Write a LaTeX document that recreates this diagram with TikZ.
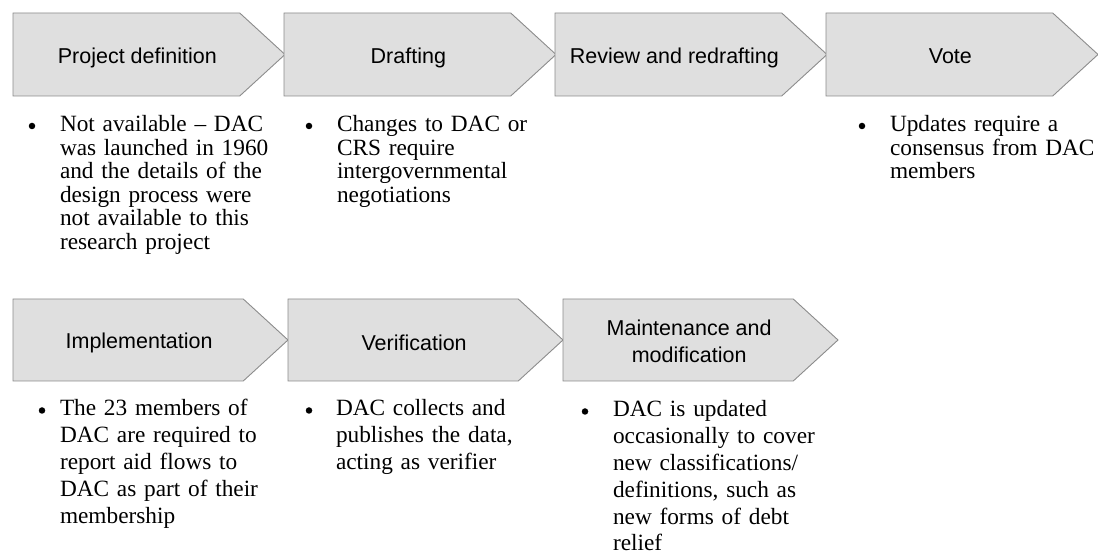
\documentclass[tikz,border=0pt]{standalone}
\usepackage{fontspec}
\setmainfont{Liberation Serif}
\setsansfont{Liberation Sans}
\usetikzlibrary{positioning, shapes.symbols}

\begin{document}
\begin{tikzpicture}[x=1pt,y=1pt,node distance=-1pt,
    every node/.style={outer sep=0pt}]
  \tikzstyle{stage}=[signal, signal to=east, signal from=nowhere, signal pointer angle=85,
    draw=gray!90, line width=0.9pt, fill=gray!25, minimum width=272pt, minimum height=83pt, inner sep=0pt]
  \tikzstyle{stagetext}=[font=\sffamily\fontsize{21.5}{27}\selectfont, align=center, inner sep=0pt]
  \tikzstyle{note}=[anchor=base west, inner sep=0pt, align=left, text width=240pt,
    font=\fontsize{23.3}{23.5}\selectfont]
  \tikzstyle{dot}=[circle, fill=black, minimum size=6.5pt, inner sep=0pt]

  \useasboundingbox (0,0) rectangle (1098,554);

  % Top row of stages
  \node[stage, anchor=west] (c1) at (13,499.5) {};
  \node[stage] (c2) [right=of c1] {};
  \node[stage] (c3) [right=of c2] {};
  \node[stage] (c4) [right=of c3] {};

  \node[stagetext] (l1) at ([xshift=11pt,yshift=-3pt]c1.center) {Project definition};
  \node[stagetext] (l2) at ([xshift=11pt,yshift=-3pt]c2.center) {Drafting};
  \node[stagetext] (l3) at ([xshift=6pt,yshift=-3pt]c3.center) {Review and redrafting};
  \node[stagetext] (l4) at ([xshift=11pt,yshift=-2pt]c4.center) {Vote};

  % Bottom row of stages
  \begin{scope}[node distance=0pt]
  \node[stage, minimum width=275pt, minimum height=82pt, anchor=west] (c5) at (13,214) {};
  \node[stage, minimum width=275pt, minimum height=82pt] (c6) [right=of c5] {};
  \node[stage, minimum width=275pt, minimum height=82pt] (c7) [right=of c6] {};
  \end{scope}

  \node[stagetext] (l5) at ([xshift=11pt,yshift=-3pt]c5.center) {Implementation};
  \node[stagetext] (l6) at ([xshift=11pt,yshift=-3pt]c6.center) {Verification};
  \node[stagetext] (l7) at ([xshift=11pt,yshift=-1pt]c7.center) {Maintenance and\\modification};

  % Notes under the stages
  \node[note] (n1) at (60,422) {Not available -- DAC\\was launched in 1960\\and the details of the\\design process were\\not available to this\\research project};
  \node[note] (n2) at (337,422) {Changes to DAC or\\CRS require\\intergovernmental\\negotiations};
  \node[note] (n4) at (890,422) {Updates require a\\consensus from DAC\\members};

  \node[note, font=\fontsize{23.3}{26.8}\selectfont] (n5) at (60,138) {The 23 members of\\DAC are required to\\report aid flows to\\DAC as part of their\\membership};
  \node[note, font=\fontsize{23.3}{26.8}\selectfont] (n6) at (336,138) {DAC collects and\\publishes the data,\\acting as verifier};
  \node[note, font=\fontsize{23.3}{26.8}\selectfont] (n7) at (613,137) {DAC is updated\\occasionally to cover\\new classifications/\\definitions, such as\\new forms of debt\\relief};

  % Bullets
  \node[dot] (b1) at ([xshift=-28pt,yshift=6pt]n1.base west) {};
  \node[dot] (b2) at ([xshift=-28pt,yshift=6pt]n2.base west) {};
  \node[dot] (b4) at ([xshift=-28pt,yshift=6pt]n4.base west) {};
  \node[dot] (b5) at ([xshift=-18pt,yshift=5.5pt]n5.base west) {};
  \node[dot] (b6) at ([xshift=-27pt,yshift=5.5pt]n6.base west) {};
  \node[dot] (b7) at ([xshift=-28pt,yshift=5.5pt]n7.base west) {};
\end{tikzpicture}
\end{document}
